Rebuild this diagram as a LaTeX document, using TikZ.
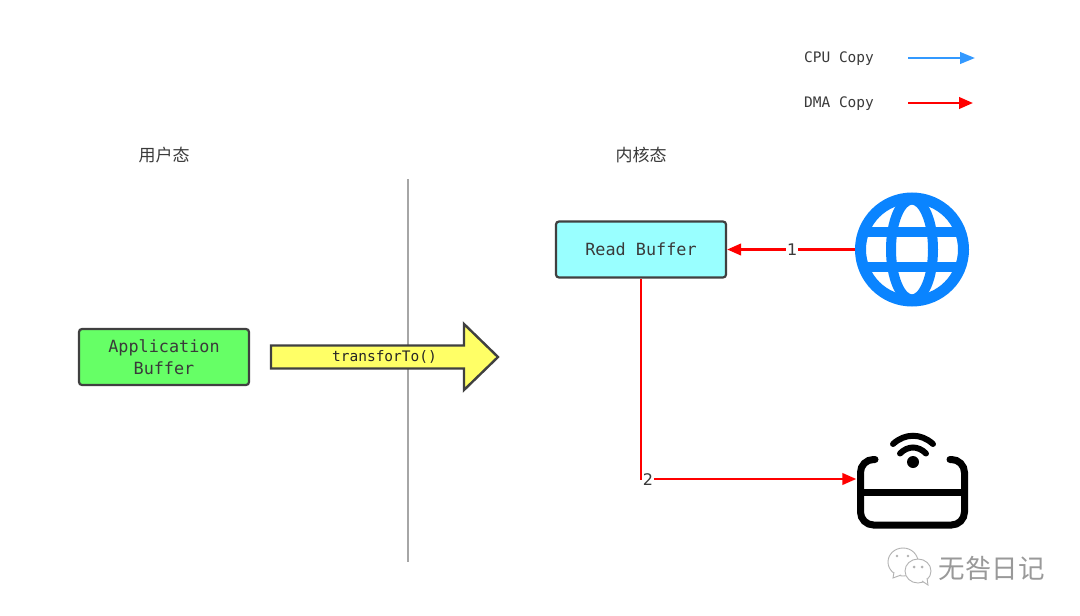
\documentclass[tikz,border=0pt]{standalone}
\usepackage{fontspec}
\setmonofont{DejaVu Sans Mono}
\setsansfont{DejaVu Sans}
\newfontfamily\cjk{Noto Sans CJK SC}
\usetikzlibrary{arrows.meta}
\definecolor{edgegray}{HTML}{404040}
\definecolor{textgray}{HTML}{3A3A3A}
\definecolor{dmared}{HTML}{FF0000}
\definecolor{cpublue}{HTML}{3399FF}
\definecolor{globeblue}{HTML}{0A84FF}
\definecolor{boxgreen}{HTML}{66FF66}
\definecolor{boxcyan}{HTML}{99FFFF}
\definecolor{arrowyellow}{HTML}{FFFF66}
\tikzset{
  x=1pt,y=-1pt,
  bufferbox/.style={draw=edgegray,line width=2.2pt,rounded corners=3pt,minimum width=170pt,minimum height=56pt,
    inner sep=0pt,align=center,font=\ttfamily\fontsize{16.8}{21.5}\selectfont,text=textgray},
  monotext/.style={font=\ttfamily\fontsize{14.5}{16}\selectfont,text=textgray,inner sep=0pt},
  zhtext/.style={font=\cjk\fontsize{17}{20}\selectfont,text=textgray,inner sep=0pt},
  dmaline/.style={draw=dmared,line width=2.5pt,-{Triangle[length=14pt,width=11.5pt]}},
  cpuline/.style={draw=cpublue,line width=2.5pt,-{Triangle[length=15pt,width=11.5pt]}},
  edgelabel/.style={fill=white,inner sep=1pt,font=\sffamily\fontsize{16}{18}\selectfont,text=textgray},
  routerstroke/.style={draw=black,line width=7pt,line cap=round},
  wechat/.style={draw=black!30,fill=white,line width=0.9pt},
}
\begin{document}
\begin{tikzpicture}
\useasboundingbox[fill=white] (0,0) rectangle (1080,616);

% legend
\node[monotext] (cpulabel) at (839,58.5) {CPU Copy};
\node[monotext] (dmalabel) at (839,103.5) {DMA Copy};
\coordinate (cpua) at (908,58);
\coordinate (cpub) at (975,58);
\coordinate (dmaa) at (908,103);
\coordinate (dmab) at (973,103);
\draw[cpuline] (cpua) -- (cpub);
\draw[dmaline] (dmaa) -- (dmab);

% headings
\node[zhtext] (userlabel) at (164,155) {用户态};
\node[zhtext] (kernellabel) at (641,155) {内核态};

% divider
\coordinate (diva) at (408,179);
\coordinate (divb) at (408,562);
\draw[draw=black!35,line width=1.5pt] (diva) -- (divb);

% boxes
\node[bufferbox,fill=boxgreen] (app) at (164,357) {Application\\Buffer};
\node[bufferbox,fill=boxcyan] (read) at (641,249.5) {Read Buffer};

% block arrow
\draw[draw=edgegray,fill=arrowyellow,line width=2.4pt,line join=miter]
  (271,345.5) -- (464,345.5) -- (464,324) -- (498,357) -- (464,390) -- (464,368.5) -- (271,368.5) -- cycle;
\node[font=\ttfamily\fontsize{14.5}{18}\selectfont,text=black!85,inner sep=0pt] (transfer) at (384.5,356.5) {transforTo()};

% globe
\node[circle,draw=globeblue,line width=11pt,minimum size=103pt,inner sep=0pt] (globe) at (912,249.5) {};
\begin{scope}
  \clip (912,249.5) circle[radius=52pt];
  \draw[globeblue,line width=10pt] (912,249.5) ellipse[x radius=21pt,y radius=50pt];
  \draw[globeblue,line width=10pt] (850,232) -- (974,232);
  \draw[globeblue,line width=10pt] (850,267) -- (974,267);
\end{scope}

% router
\node[minimum width=112pt,minimum height=72pt,inner sep=0pt] (router) at (912.5,492) {};
\draw[routerstroke,rounded corners=13pt] (875,459.5) -- (860.5,459.5) -- (860.5,525) -- (964.5,525) -- (964.5,459.5) -- (950,459.5);
\draw[draw=black,line width=7pt] (860.5,492) -- (964.5,492);
\fill[black] (913,462) circle[radius=6pt];
\draw[draw=black,line width=6pt,line cap=round] (900,453.5) .. controls (908,445.5) and (918,445.5) .. (926,453.5);
\draw[draw=black,line width=6pt,line cap=round] (893,444) .. controls (905,433) and (921,433) .. (933,444);

% connectors
\draw[dmaline] (globe.west) -- node[edgelabel,pos=0.49] (one) {1} (read.east);
\coordinate (bend) at (641,479);
\draw[dmaline] (read.south) -- (bend) -- (router.west |- bend);
\node[edgelabel] (two) at (648,479.5) {2};

% watermark
\draw[wechat] (903,562) ellipse[x radius=15pt,y radius=14pt];
\draw[wechat] (894,572) -- (893,578) -- (901,575);
\fill[black!30] (897,556) circle[radius=1.4pt] (908,556) circle[radius=1.4pt];
\draw[wechat] (918,571) ellipse[x radius=13pt,y radius=12pt];
\draw[wechat] (922,581) -- (928,585) -- (927,578);
\fill[black!30] (914,567) circle[radius=1.5pt] (922,567) circle[radius=1.5pt];
\node[font=\cjk\fontsize{26.5}{30}\selectfont,text=black!40,inner sep=0pt] (mark) at (991.5,568) {无咎日记};
\end{tikzpicture}
\end{document}
